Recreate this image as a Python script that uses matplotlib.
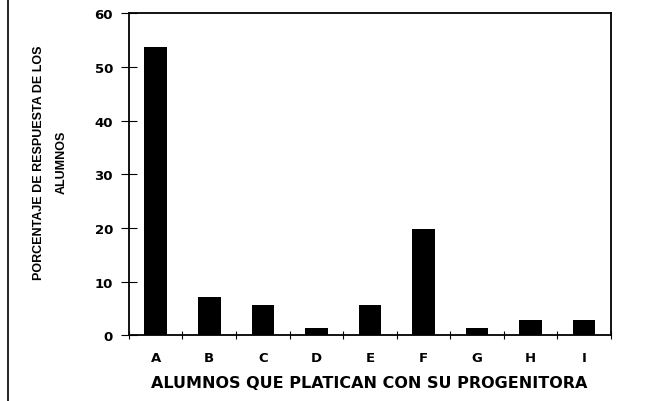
import matplotlib
matplotlib.use('Agg')
import matplotlib.pyplot as plt
from matplotlib import font_manager

# data
categorias = ['A', 'B', 'C', 'D', 'E', 'F', 'G', 'H', 'I']
porcentajes = [53.7, 7.1, 5.6, 1.4, 5.6, 19.9, 1.4, 2.8, 2.8]
yticks = [0, 10, 20, 30, 40, 50, 60]

nombres = set(f.name for f in font_manager.fontManager.ttflist)
narrow = 'Liberation Sans Narrow' if 'Liberation Sans Narrow' in nombres else 'Liberation Sans'

fig = plt.figure(figsize=(6.67, 4.02), dpi=100)
ax = fig.add_axes([0.1933, 0.163, 0.7227, 0.8014])

pos = [i + 0.5 for i in range(len(categorias))]
ax.bar(pos, porcentajes, width=0.42, color='black')

ax.set_xlim(0, len(categorias))
ax.set_ylim(0, 60)
ax.set_yticks(yticks)
ax.set_yticklabels([str(v) for v in yticks], fontsize=9.5, family='DejaVu Sans',
                   weight='bold')

# ticks on the category boundaries, labels in the middle
ax.set_xticks(range(len(categorias) + 1))
ax.set_xticklabels([])
ax.set_xticks(pos, minor=True)
ax.set_xticklabels(categorias, minor=True, fontsize=9.5, family='DejaVu Sans',
                   weight='bold')
ax.tick_params(axis='x', which='major', direction='inout', length=6, width=0.8)
ax.tick_params(axis='x', which='minor', length=0, pad=11)
ax.tick_params(axis='y', direction='inout', length=11, width=0.8, pad=6)

for s in ax.spines.values():
    s.set_linewidth(1.3)

fig.text(0.553, 0.046, 'ALUMNOS QUE PLATICAN CON SU PROGENITORA',
         ha='center', va='center', fontsize=11.5, family='DejaVu Sans', weight='bold')
fig.text(0.075, 0.595, 'PORCENTAJE DE RESPUESTA DE LOS\nALUMNOS', rotation=90,
         ha='center', va='center', fontsize=9, family=narrow, weight='bold',
         linespacing=2.2)

# frame line at the left edge of the scan
fig.add_artist(plt.Line2D([0.012, 0.012], [0, 1], color='black', lw=1.2,
                          transform=fig.transFigure))

fig.savefig('out.png', dpi=100)
